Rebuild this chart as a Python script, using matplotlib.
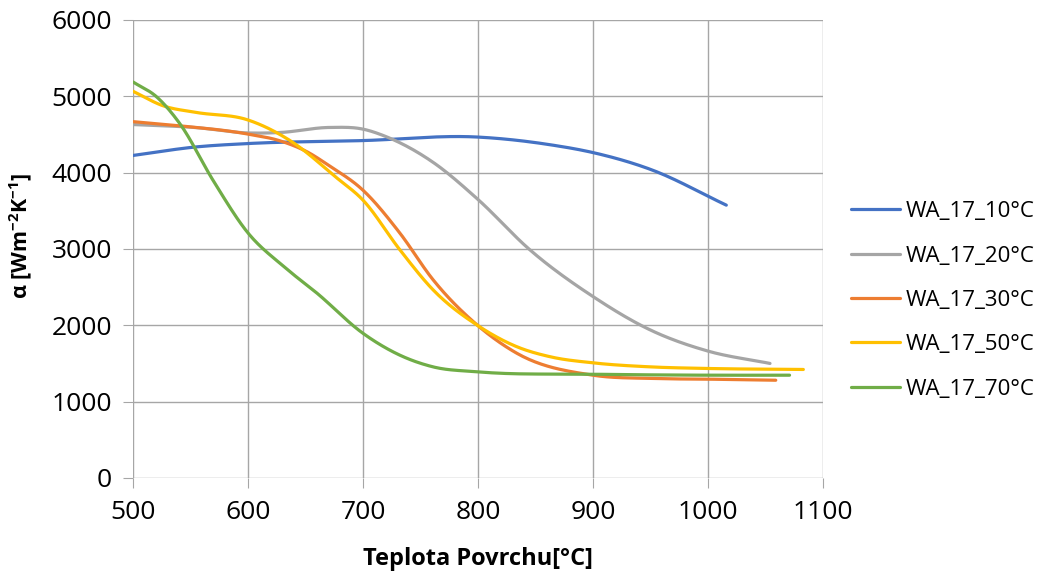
import numpy as np
import matplotlib
matplotlib.use("Agg")
import matplotlib.pyplot as plt

plt.rcParams['font.family'] = ['Open Sans', 'DejaVu Sans']
plt.rcParams['mathtext.fontset'] = 'custom'
plt.rcParams['mathtext.rm'] = 'Open Sans'
plt.rcParams['mathtext.bf'] = 'Open Sans:bold'

# values (surface temperature [°C], alpha [W m-2 K-1])
labels = ["WA_17_10°C", "WA_17_20°C", "WA_17_30°C", "WA_17_50°C", "WA_17_70°C"]
colors = ["#4472c4", "#a5a5a5", "#ed7d31", "#ffc000", "#70ad47"]

t_10 = [500, 555, 600, 700, 800, 863, 900, 950, 1016]
a_10 = [4225, 4337, 4381, 4420, 4466, 4365, 4263, 4043, 3574]

t_20 = [500, 555, 600, 628, 671, 700, 722, 761, 800, 845, 900, 950, 1000, 1054]
a_20 = [4630, 4590, 4520, 4526, 4592, 4570, 4460, 4135, 3649, 2991, 2377, 1938, 1662, 1500]

t_30 = [500, 541, 600, 628, 651, 671, 700, 732, 761, 800, 834, 900, 950, 1000, 1059]
a_30 = [4668, 4613, 4505, 4416, 4276, 4087, 3770, 3210, 2596, 1995, 1632, 1346, 1303, 1294, 1280]

t_50 = [500, 526, 555, 600, 637, 677, 700, 732, 761, 800, 834, 863, 900, 950, 1000, 1083]
a_50 = [5066, 4877, 4789, 4690, 4416, 3934, 3640, 2991, 2464, 1995, 1718, 1587, 1508, 1455, 1434, 1421]

t_70 = [500, 521, 541, 570, 600, 631, 660, 700, 732, 761, 800, 900, 1000, 1071]
a_70 = [5188, 4987, 4636, 3890, 3210, 2771, 2421, 1895, 1609, 1455, 1390, 1359, 1346, 1346]

series_t = [t_10, t_20, t_30, t_50, t_70]
series_a = [a_10, a_20, a_30, a_50, a_70]


def smooth(x, y, n=25):
    # cubic hermite in x, tangents from neighbours -> smooth like excel's line
    x = np.asarray(x, float)
    y = np.asarray(y, float)
    m = np.gradient(y, x)
    xs, ys = [], []
    for i in range(len(x)-1):
        h = x[i+1] - x[i]
        s = np.linspace(0, 1, n, endpoint=False)
        h00 = 2*s**3 - 3*s**2 + 1
        h10 = s**3 - 2*s**2 + s
        h01 = -2*s**3 + 3*s**2
        h11 = s**3 - s**2
        xs.extend(x[i] + s*h)
        ys.extend(h00*y[i] + h10*h*m[i] + h01*y[i+1] + h11*h*m[i+1])
    xs.append(x[-1])
    ys.append(y[-1])
    return np.array(xs), np.array(ys)


fig = plt.figure(figsize=(10.39, 5.71), dpi=100)
ax = fig.add_axes([0.128, 0.163, 0.664, 0.802])

for t, a, c, lab in zip(series_t, series_a, colors, labels):
    xs, ys = smooth(t, a)
    ax.plot(xs, ys, color=c, linewidth=2.3, label=lab, solid_capstyle='round')

ax.set_xlim(500, 1100)
ax.set_ylim(0, 6000)
ax.set_xticks(np.arange(500, 1101, 100))
ax.set_yticks(np.arange(0, 6001, 1000))
ax.grid(True, color="#a6a6a6", linewidth=1)
ax.set_axisbelow(True)
for sp in ax.spines.values():
    sp.set_visible(False)
ax.tick_params(axis='both', length=7, color="#a6a6a6", labelsize=19,
               labelcolor="#000000")
ax.tick_params(axis='x', pad=9)
ax.tick_params(axis='y', pad=8)

ax.set_xlabel("Teplota Povrchu[°C]", fontsize=17, fontweight='bold', labelpad=16)
ax.set_ylabel(r"α [Wm$^{\mathbf{-2}}$K$^{\mathbf{-1}}$]", fontsize=15.5,
              fontweight='bold')
ax.yaxis.set_label_coords(-0.142, 0.528)

leg = fig.legend(loc='center left', bbox_to_anchor=(0.819, 0.474), frameon=False,
                 fontsize=16, handlelength=2.2, handletextpad=0.25,
                 labelspacing=1.05, borderpad=0, borderaxespad=0)

fig.savefig("out.png", dpi=100)
